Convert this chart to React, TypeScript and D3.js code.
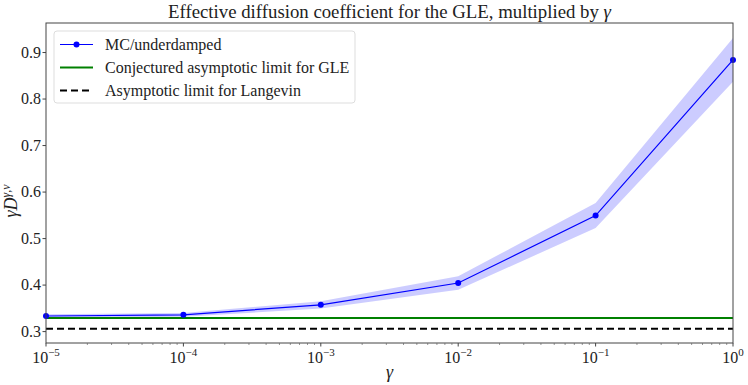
import { useRef, useEffect } from 'react';
import * as d3 from 'd3';

const WIDTH = 748;
const HEIGHT = 385;
const MARGIN = { top: 23, right: 15, bottom: 42, left: 46 };
const FONT = 'Liberation Serif';

// MC/underdamped estimates with half-width of confidence band
const gammas = [1e-5, 1e-4, 1e-3, 1e-2, 1e-1, 1];
const mcValues = [0.3335, 0.336, 0.3575, 0.4045, 0.5495, 0.884];
const mcSpread = [0.004, 0.004, 0.008, 0.0145, 0.027, 0.047];

const gleLimit = 0.3295;
const langevinLimit = 0.306;

const yTicks = [0.3, 0.4, 0.5, 0.6, 0.7, 0.8, 0.9];
const xTickExponents = [-5, -4, -3, -2, -1, 0];

export default function App() {
  const svgRef = useRef<SVGSVGElement | null>(null);

  useEffect(() => {
    const svg = d3.select(svgRef.current);
    svg.selectAll('g').remove();

    const innerW = WIDTH - MARGIN.left - MARGIN.right;
    const innerH = HEIGHT - MARGIN.top - MARGIN.bottom;

    const x = d3.scaleLog().domain([1e-5, 1]).range([0, innerW]);
    const y = d3.scaleLinear().domain([0.2755, 0.9635]).range([innerH, 0]);

    const root = svg.append('g').attr('font-family', FONT).style('font-family', FONT);
    const g = root.append('g').attr('transform', `translate(${MARGIN.left},${MARGIN.top})`);

    // Confidence band
    const area = d3.area<number>()
      .x((_, i) => x(gammas[i]))
      .y0((d, i) => y(d - mcSpread[i]))
      .y1((d, i) => y(d + mcSpread[i]));
    g.append('path')
      .datum(mcValues)
      .attr('d', area)
      .attr('fill', 'blue')
      .attr('fill-opacity', 0.2)
      .attr('stroke', 'none');

    // Horizontal limits
    g.append('line')
      .attr('x1', 0).attr('x2', innerW)
      .attr('y1', y(gleLimit)).attr('y2', y(gleLimit))
      .attr('stroke', 'green').attr('stroke-width', 2);
    g.append('line')
      .attr('x1', 0).attr('x2', innerW)
      .attr('y1', y(langevinLimit)).attr('y2', y(langevinLimit))
      .attr('stroke', 'black').attr('stroke-width', 2)
      .attr('stroke-dasharray', '7,4');

    // MC line + markers
    const line = d3.line<number>().x((_, i) => x(gammas[i])).y(d => y(d));
    g.append('path')
      .datum(mcValues)
      .attr('d', line)
      .attr('fill', 'none')
      .attr('stroke', 'blue')
      .attr('stroke-width', 1.2);
    g.selectAll('.dot')
      .data(mcValues)
      .join('circle')
      .attr('cx', (_, i) => x(gammas[i]))
      .attr('cy', d => y(d))
      .attr('r', 3)
      .attr('fill', 'blue');

    // Frame
    g.append('rect')
      .attr('x', 0).attr('y', 0)
      .attr('width', innerW).attr('height', innerH)
      .attr('fill', 'none')
      .attr('stroke', '#444').attr('stroke-width', 1);

    // Y ticks
    yTicks.forEach(t => {
      g.append('line')
        .attr('x1', -3.5).attr('x2', 0)
        .attr('y1', y(t)).attr('y2', y(t))
        .attr('stroke', '#444');
      g.append('text')
        .attr('x', -5).attr('y', y(t) + 5)
        .attr('text-anchor', 'end')
        .attr('font-size', 16)
        .attr('fill', '#222')
        .text(t.toFixed(1));
    });

    // X ticks: majors and log minors
    xTickExponents.forEach(e => {
      const v = Math.pow(10, e);
      g.append('line')
        .attr('x1', x(v)).attr('x2', x(v))
        .attr('y1', innerH).attr('y2', innerH + 3.5)
        .attr('stroke', '#444');
      const t = g.append('text')
        .attr('x', x(v)).attr('y', innerH + 20)
        .attr('text-anchor', 'middle')
        .attr('font-size', 16)
        .attr('fill', '#222');
      t.append('tspan').text('10');
      t.append('tspan')
        .attr('dy', -7).attr('font-size', 11)
        .text(e < 0 ? `\u2212${-e}` : `${e}`);
      if (e < 0) {
        for (let k = 2; k <= 9; k++) {
          const m = k * v;
          g.append('line')
            .attr('x1', x(m)).attr('x2', x(m))
            .attr('y1', innerH).attr('y2', innerH + 2)
            .attr('stroke', '#666').attr('stroke-width', 0.7);
        }
      }
    });

    // Axis labels
    root.append('text')
      .attr('x', MARGIN.left + innerW / 2).attr('y', HEIGHT - 7)
      .attr('text-anchor', 'middle')
      .attr('font-size', 18)
      .attr('font-style', 'italic').attr('fill', '#222')
      .text('\u03b3');

    const yl = root.append('text')
      .attr('transform', `translate(17,${MARGIN.top + innerH / 2 + 18}) rotate(-90)`)
      .attr('text-anchor', 'middle')
      .attr('font-size', 18)
      .attr('font-style', 'italic').attr('fill', '#222');
    yl.append('tspan').text('\u03b3D');
    yl.append('tspan').attr('dy', -7).attr('font-size', 12).text('\u03b3,\u03bd');

    // Title
    const title = root.append('text')
      .attr('x', MARGIN.left + innerW / 2).attr('y', 18)
      .attr('text-anchor', 'middle')
      .attr('font-size', 18.8)
      .attr('fill', '#222');
    title.append('tspan').text('Effective diffusion coefficient for the GLE, multiplied by ');
    title.append('tspan').attr('font-style', 'italic').text('\u03b3');

    // Legend
    const lg = g.append('g').attr('transform', 'translate(8,8)');
    lg.append('rect')
      .attr('width', 301).attr('height', 72)
      .attr('rx', 3)
      .attr('fill', 'white').attr('fill-opacity', 0.8)
      .attr('stroke', '#ddd');
    const items = [
      { label: 'MC/underdamped', color: 'blue', width: 1.2, dash: null, marker: true },
      { label: 'Conjectured asymptotic limit for GLE', color: 'green', width: 2, dash: null, marker: false },
      { label: 'Asymptotic limit for Langevin', color: 'black', width: 2, dash: '7,4', marker: false },
    ];
    items.forEach((it, i) => {
      const cy = 13.5 + i * 23;
      lg.append('line')
        .attr('x1', 6).attr('x2', 39)
        .attr('y1', cy).attr('y2', cy)
        .attr('stroke', it.color).attr('stroke-width', it.width)
        .attr('stroke-dasharray', it.dash);
      if (it.marker) {
        lg.append('circle').attr('cx', 22.5).attr('cy', cy).attr('r', 3).attr('fill', it.color);
      }
      lg.append('text')
        .attr('x', 51).attr('y', cy + 5)
        .attr('font-size', 16)
        .attr('fill', '#222')
        .text(it.label);
    });
  }, []);

  return (
    <svg ref={svgRef} width={WIDTH} height={HEIGHT}
      style={{ position: 'absolute', left: 0, top: 0, background: 'white', fontFamily: FONT }}>
      <style>{`text, tspan { font-family: 'Liberation Serif' !important; }`}</style>
    </svg>
  );
}
